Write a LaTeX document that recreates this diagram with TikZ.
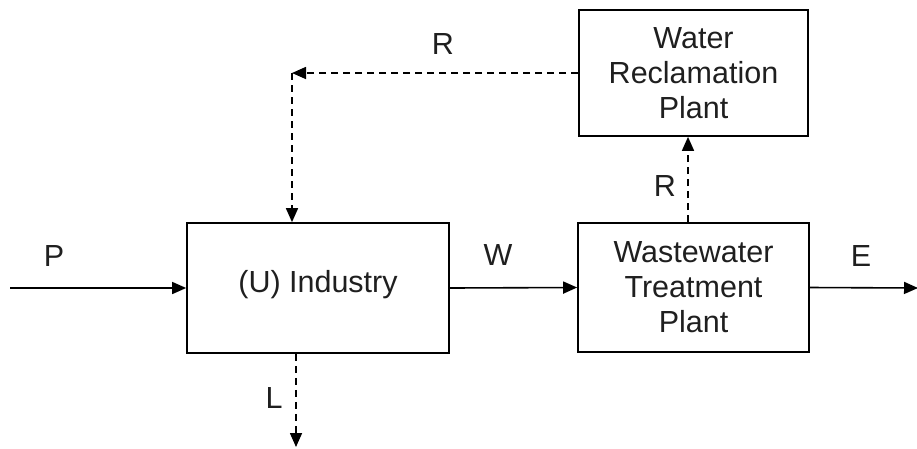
\documentclass[tikz,border=0pt]{standalone}
\usepackage{fontspec}
\setmainfont{Liberation Sans}
\usetikzlibrary{arrows.meta}
\begin{document}
\begin{tikzpicture}[x=1pt, y=-1pt,
  every node/.style={font=\fontsize{30.5}{35}\selectfont, text=black!88},
  unitbox/.style={draw, line width=1.7pt, align=center, inner sep=0pt},
  flow/.style={line width=1.6pt, -{Triangle[length=14pt, width=12pt]}},
  rflow/.style={flow, dash pattern=on 7pt off 5pt},
  tag/.style={anchor=base, inner sep=0pt}]
\useasboundingbox (0,0) rectangle (917,448);

% process units
\node[unitbox, minimum width=262pt, minimum height=130pt,
      text height=21.8pt, text depth=12pt] (ind) at (318,288) {(U) Industry};
\node[unitbox, minimum width=231pt, minimum height=129pt] (ww) at (693.5,287.5) {Wastewater\\Treatment\\Plant};
\node[unitbox, minimum width=229pt, minimum height=126pt] (wr) at (693.5,73) {Water\\Reclamation\\Plant};

% free ends and bend point
\coordinate (pin) at (10,288);
\coordinate (eout) at (918,288);
\coordinate (corner) at (292,73);
\coordinate (lout) at (296,447);

% main flows
\draw[flow] (pin) -- (ind.west);
\draw[flow] (ind.east) -- (ww.west);
\draw[flow] (ww.east) -- (eout);

% reclaimed water and losses
\draw[rflow] ([xshift=-5.5pt]ww.north) -- ([xshift=-5.5pt]wr.south);
\draw[rflow] (wr.west) -- (corner);
\draw[rflow] (corner) -- (corner |- ind.north);
\draw[rflow] (lout |- ind.south) -- (lout);

% flow labels
\node[tag] (lp) at (54,266) {P};
\node[tag] (lw) at (498,265) {W};
\node[tag] (le) at (861,266) {E};
\node[tag] (lr1) at (443,54) {R};
\node[tag] (lr2) at (665,196) {R};
\node[tag] (ll) at (274,408) {L};
\end{tikzpicture}
\end{document}
